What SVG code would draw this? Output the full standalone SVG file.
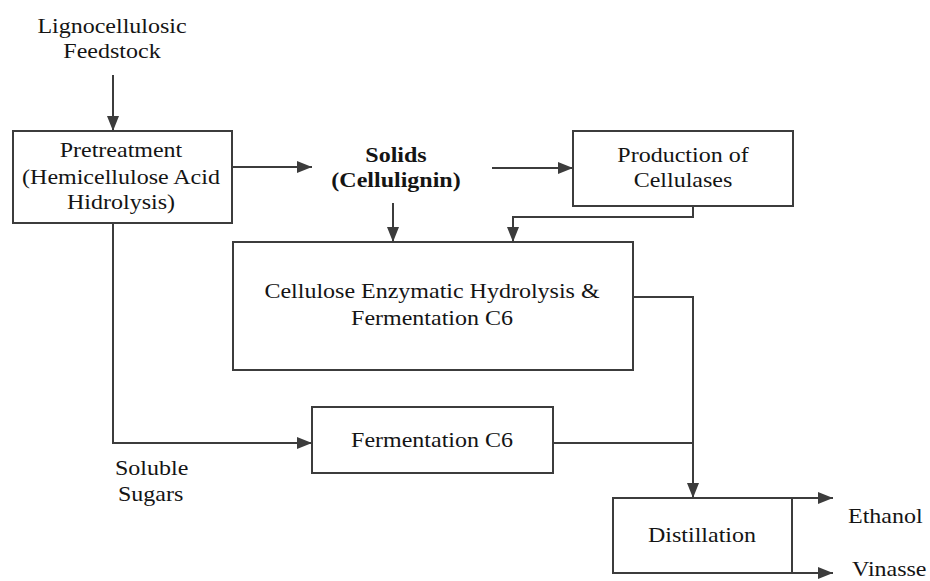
<svg xmlns="http://www.w3.org/2000/svg" width="930" height="581" viewBox="0 0 930 581">
  <defs>
    <marker id="arrow" markerUnits="userSpaceOnUse" markerWidth="16" markerHeight="12" refX="15" refY="6" orient="auto">
      <path d="M0,0 L15,6 L0,12 z" fill="#3c3c3c"/>
    </marker>
    <style>
      .box { fill: #ffffff; stroke: #3c3c3c; stroke-width: 2; }
      .link { fill: none; stroke: #3c3c3c; stroke-width: 2; }
      .t { font-family: "Liberation Serif", "Times New Roman", serif; font-size: 20px; fill: #141414; text-anchor: middle; }
      .b { font-weight: bold; }
      .s { text-anchor: start; }
    </style>
  </defs>
  <rect width="930" height="581" fill="#ffffff"/>

  <g id="connectors">
    <path class="link" d="M113,75 V131" marker-end="url(#arrow)"/>
    <path class="link" d="M232,167 H312" marker-end="url(#arrow)"/>
    <path class="link" d="M492,168 H573" marker-end="url(#arrow)"/>
    <path class="link" d="M393,203 V242" marker-end="url(#arrow)"/>
    <path class="link" d="M693,206 V217 H513 V242" marker-end="url(#arrow)"/>
    <path class="link" d="M633,297 H693 V498" marker-end="url(#arrow)"/>
    <path class="link" d="M553,443 H693"/>
    <path class="link" d="M113,223 V443 H312" marker-end="url(#arrow)"/>
    <path class="link" d="M792,498 H833" marker-end="url(#arrow)"/>
    <path class="link" d="M792,573 H833" marker-end="url(#arrow)"/>
  </g>

  <g id="feedstock">
    <text class="t" transform="translate(112 33) scale(1.2 1)">Lignocellulosic</text>
    <text class="t" transform="translate(112 58) scale(1.2 1)">Feedstock</text>
  </g>

  <g id="pretreatment">
    <rect class="box" x="13" y="131" width="219" height="92"/>
    <text class="t" transform="translate(121 157) scale(1.2 1)">Pretreatment</text>
    <text class="t" transform="translate(121 184) scale(1.2 1)">(Hemicellulose Acid</text>
    <text class="t" transform="translate(121 209) scale(1.2 1)">Hidrolysis)</text>
  </g>

  <g id="solids">
    <text class="t b" transform="translate(396 162) scale(1.2 1)">Solids</text>
    <text class="t b" transform="translate(396 187) scale(1.2 1)">(Cellulignin)</text>
  </g>

  <g id="cellulases">
    <rect class="box" x="573" y="131" width="220" height="75"/>
    <text class="t" transform="translate(683 162) scale(1.2 1)">Production of</text>
    <text class="t" transform="translate(683 187) scale(1.2 1)">Cellulases</text>
  </g>

  <g id="hydrolysis">
    <rect class="box" x="233" y="242" width="400" height="128"/>
    <text class="t" transform="translate(432 298) scale(1.2 1)">Cellulose Enzymatic Hydrolysis &amp;</text>
    <text class="t" transform="translate(432 325) scale(1.2 1)">Fermentation C6</text>
  </g>

  <g id="fermentation">
    <rect class="box" x="312" y="407" width="241" height="66"/>
    <text class="t" transform="translate(432 447) scale(1.2 1)">Fermentation C6</text>
  </g>

  <g id="sugars">
    <text class="t s" transform="translate(115 475) scale(1.2 1)">Soluble</text>
    <text class="t s" transform="translate(118 501) scale(1.2 1)">Sugars</text>
  </g>

  <g id="distillation">
    <rect class="box" x="613" y="498" width="179" height="75"/>
    <text class="t" transform="translate(702 542) scale(1.2 1)">Distillation</text>
  </g>

  <g id="ethanol">
    <text class="t s" transform="translate(848 523) scale(1.2 1)">Ethanol</text>
  </g>

  <g id="vinasse">
    <text class="t s" transform="translate(852 576) scale(1.2 1)">Vinasse</text>
  </g>
</svg>
